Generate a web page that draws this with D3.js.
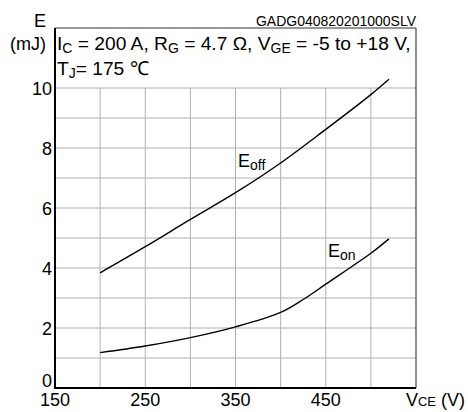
<!DOCTYPE html>
<html>
<head>
<meta charset="utf-8">
<script src="https://cdn.jsdelivr.net/npm/d3@7"></script>
<style>
  html, body { margin: 0; padding: 0; background: #fff; }
  svg { display: block; font-family: "Liberation Sans", Arial, sans-serif; }
</style>
</head>
<body>
<svg id="chart" width="468" height="412"></svg>
<script>
// Switching energy vs. collector-emitter voltage
const eoffVce = [200, 250, 300, 350, 400, 450, 500, 520];
const eoffVal = [3.84, 4.71, 5.62, 6.51, 7.50, 8.62, 9.78, 10.29];
const eonVce  = [200, 250, 300, 350, 400, 425, 450, 500, 520];
const eonVal  = [1.18, 1.40, 1.68, 2.04, 2.52, 2.95, 3.46, 4.49, 4.97];

const xTickLabels = [150, 250, 350, 450];
const yTickLabels = [0, 2, 4, 6, 8, 10];
const xGrid = [200, 250, 300, 350, 400, 450, 500];
const yGrid = [1, 2, 3, 4, 5, 6, 7, 8, 9, 10];

const svg = d3.select("#chart");
const x = d3.scaleLinear().domain([150, 550]).range([55, 416]);
const y = d3.scaleLinear().domain([0, 12]).range([388, 28]);

// grid (only up to 10 mJ; the band above holds the conditions text)
const grid = svg.append("g").attr("stroke", "#b0b0b0").attr("stroke-width", 1);
grid.selectAll("line.v").data(xGrid).join("line")
  .attr("x1", d => x(d)).attr("x2", d => x(d))
  .attr("y1", y(0)).attr("y2", y(10));
grid.selectAll("line.h").data(yGrid).join("line")
  .attr("x1", x(150)).attr("x2", x(550))
  .attr("y1", d => y(d)).attr("y2", d => y(d));

// frame: top and right thin, axes heavier
svg.append("line").attr("x1", x(150)).attr("x2", x(550)).attr("y1", y(12)).attr("y2", y(12))
  .attr("stroke", "#333").attr("stroke-width", 1.2);
svg.append("line").attr("x1", x(550)).attr("x2", x(550)).attr("y1", y(12)).attr("y2", y(0))
  .attr("stroke", "#444").attr("stroke-width", 1.2);
svg.append("line").attr("x1", x(150)).attr("x2", x(150)).attr("y1", y(12)).attr("y2", y(0) + 1)
  .attr("stroke", "#000").attr("stroke-width", 2);
svg.append("line").attr("x1", x(150) - 1).attr("x2", x(550)).attr("y1", y(0)).attr("y2", y(0))
  .attr("stroke", "#000").attr("stroke-width", 2);

// tick labels (the zero sits raised so it clears the first x label)
svg.append("g").selectAll("text").data(yTickLabels).join("text")
  .attr("x", 52).attr("y", d => d === 0 ? y(d) - 1 : y(d) + 6.5)
  .attr("text-anchor", "end").attr("font-size", 18).text(d => d);
svg.append("g").selectAll("text").data(xTickLabels).join("text")
  .attr("x", d => x(d)).attr("y", 406)
  .attr("text-anchor", "middle").attr("font-size", 18).text(d => d);

// axis titles
svg.append("text").attr("x", 46).attr("y", 27).attr("text-anchor", "end")
  .attr("font-size", 18).text("E");
svg.append("text").attr("x", 46).attr("y", 50).attr("text-anchor", "end")
  .attr("font-size", 18).text("(mJ)");
const xt = svg.append("text").attr("x", 465).attr("y", 406).attr("text-anchor", "end").attr("font-size", 18);
xt.append("tspan").text("V");
xt.append("tspan").attr("font-size", 13).text("CE");
xt.append("tspan").text(" (V)");

// document code
svg.append("text").attr("x", 416).attr("y", 25.5).attr("text-anchor", "end")
  .attr("font-size", 14).text("GADG040820201000SLV");

// test conditions
const c1 = svg.append("text").attr("x", 57).attr("y", 50).attr("font-size", 19.2);
c1.append("tspan").text("I");
c1.append("tspan").attr("font-size", 14).attr("dy", 3).text("C");
c1.append("tspan").attr("dy", -3).text(" = 200 A, R");
c1.append("tspan").attr("font-size", 14).attr("dy", 3).text("G");
c1.append("tspan").attr("dy", -3).text(" = 4.7 Ω, V");
c1.append("tspan").attr("font-size", 14).attr("dy", 3).text("GE");
c1.append("tspan").attr("dy", -3).text(" = -5 to +18 V,");
const c2 = svg.append("text").attr("x", 57).attr("y", 75).attr("font-size", 19.2);
c2.append("tspan").text("T");
c2.append("tspan").attr("font-size", 14).attr("dy", 3).text("J");
c2.append("tspan").attr("dy", -3).text("= 175 ℃");

// curves
const line = d3.line().x(d => x(d[0])).y(d => y(d[1])).curve(d3.curveCatmullRom.alpha(0.5));
const curves = [d3.zip(eoffVce, eoffVal), d3.zip(eonVce, eonVal)];
svg.append("g").selectAll("path").data(curves).join("path")
  .attr("d", line).attr("fill", "none").attr("stroke", "#000").attr("stroke-width", 1.4);

// curve labels
function curveLabel(px, py, sub) {
  const t = svg.append("text").attr("x", px).attr("y", py).attr("font-size", 18);
  t.append("tspan").text("E");
  t.append("tspan").attr("font-size", 14).attr("dy", 3).text(sub);
}
curveLabel(238, 167, "off");
curveLabel(328, 257, "on");
</script>
</body>
</html>
